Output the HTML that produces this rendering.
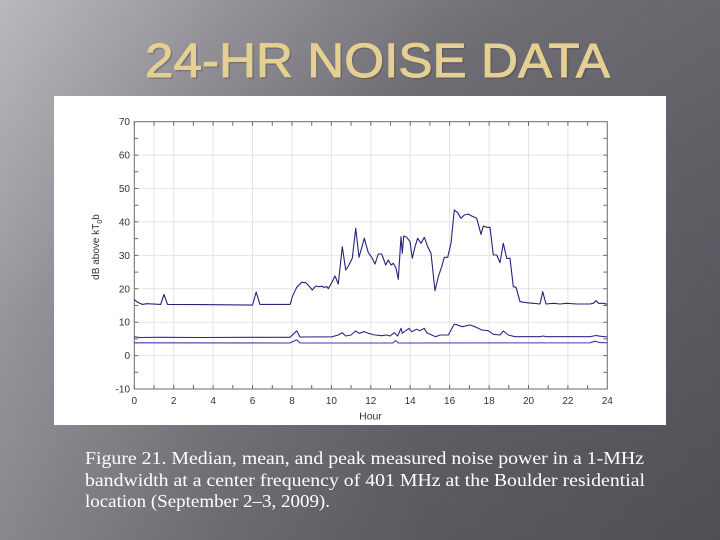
<!DOCTYPE html>
<html><head><meta charset="utf-8"><style>
html,body{margin:0;padding:0;}
body{width:720px;height:540px;overflow:hidden;position:relative;
background:linear-gradient(to right,#9c9aa0 0%,#7c7a81 30%,#66646b 60%,#5c5a61 100%);}
#bg2{position:absolute;left:0;top:0;width:720px;height:540px;
background:linear-gradient(to bottom,rgba(255,255,255,0.08) 0%,rgba(0,0,0,0) 45%,rgba(0,0,0,0.12) 100%);}
#bg3{position:absolute;left:0;top:0;width:720px;height:540px;
background:linear-gradient(150deg,rgba(255,255,255,0.24) 0%,rgba(255,255,255,0.10) 18%,rgba(255,255,255,0) 34%);}
svg{position:absolute;left:0;top:0;}
</style></head><body>
<div id="bg2"></div><div id="bg3"></div>
<svg width="720" height="540" viewBox="0 0 720 540" xmlns="http://www.w3.org/2000/svg">
<text x="145" y="77" font-family="Liberation Sans, sans-serif" font-size="48" fill="#3a383c" opacity="0.3" stroke="#3a383c" stroke-width="0.8" textLength="465" lengthAdjust="spacingAndGlyphs" transform="translate(1.5,1.5)">24-HR NOISE DATA</text>
<text x="145" y="77" font-family="Liberation Sans, sans-serif" font-size="48" fill="#e5d093" stroke="#e5d093" stroke-width="0.9" textLength="465" lengthAdjust="spacingAndGlyphs">24-HR NOISE DATA</text>

<rect x="54" y="96" width="612" height="329" fill="#ffffff"/>

<g stroke="#e4e4e4" stroke-width="1" fill="none">
<line x1="154.0" y1="122" x2="154.0" y2="389"/>
<line x1="173.7" y1="122" x2="173.7" y2="389"/>
<line x1="213.1" y1="122" x2="213.1" y2="389"/>
<line x1="252.5" y1="122" x2="252.5" y2="389"/>
<line x1="292.0" y1="122" x2="292.0" y2="389"/>
<line x1="331.4" y1="122" x2="331.4" y2="389"/>
<line x1="370.8" y1="122" x2="370.8" y2="389"/>
<line x1="410.2" y1="122" x2="410.2" y2="389"/>
<line x1="449.6" y1="122" x2="449.6" y2="389"/>
<line x1="489.1" y1="122" x2="489.1" y2="389"/>
<line x1="528.5" y1="122" x2="528.5" y2="389"/>
<line x1="567.9" y1="122" x2="567.9" y2="389"/>
<line x1="134.3" y1="155.1" x2="607.3" y2="155.1"/>
<line x1="134.3" y1="188.5" x2="607.3" y2="188.5"/>
<line x1="134.3" y1="221.9" x2="607.3" y2="221.9"/>
<line x1="134.3" y1="255.4" x2="607.3" y2="255.4"/>
<line x1="134.3" y1="288.8" x2="607.3" y2="288.8"/>
<line x1="134.3" y1="322.2" x2="607.3" y2="322.2"/>
<line x1="134.3" y1="355.6" x2="607.3" y2="355.6"/>
</g>

<rect x="134.3" y="121.7" width="473" height="267.3" fill="none" stroke="#6a6a6a" stroke-width="1"/>
<g stroke="#6a6a6a" stroke-width="1">
<path d="M134.3 389v-4M154.0 389v-4M173.7 389v-4M193.4 389v-4M213.1 389v-4M232.8 389v-4M252.5 389v-4M272.3 389v-4M292.0 389v-4M311.7 389v-4M331.4 389v-4M351.1 389v-4M370.8 389v-4M390.5 389v-4M410.2 389v-4M429.9 389v-4M449.6 389v-4M469.4 389v-4M489.1 389v-4M508.8 389v-4M528.5 389v-4M548.2 389v-4M567.9 389v-4M587.6 389v-4"/>
<path d="M134.3 121.7v4M154.0 121.7v4M173.7 121.7v4M193.4 121.7v4M213.1 121.7v4M232.8 121.7v4M252.5 121.7v4M272.3 121.7v4M292.0 121.7v4M311.7 121.7v4M331.4 121.7v4M351.1 121.7v4M370.8 121.7v4M390.5 121.7v4M410.2 121.7v4M429.9 121.7v4M449.6 121.7v4M469.4 121.7v4M489.1 121.7v4M508.8 121.7v4M528.5 121.7v4M548.2 121.7v4M567.9 121.7v4M587.6 121.7v4"/>
<path d="M134.3 138.4h4M134.3 155.1h4M134.3 171.8h4M134.3 188.5h4M134.3 205.2h4M134.3 221.9h4M134.3 238.6h4M134.3 255.4h4M134.3 272.1h4M134.3 288.8h4M134.3 305.5h4M134.3 322.2h4M134.3 338.9h4M134.3 355.6h4M134.3 372.3h4"/>
<path d="M607.3 138.4h-4M607.3 155.1h-4M607.3 171.8h-4M607.3 188.5h-4M607.3 205.2h-4M607.3 221.9h-4M607.3 238.6h-4M607.3 255.4h-4M607.3 272.1h-4M607.3 288.8h-4M607.3 305.5h-4M607.3 322.2h-4M607.3 338.9h-4M607.3 355.6h-4M607.3 372.3h-4"/>
</g>

<g font-family="Liberation Sans, sans-serif" font-size="10" fill="#333" text-anchor="end">
<text x="130" y="125.2">70</text>
<text x="130" y="158.6">60</text>
<text x="130" y="192.0">50</text>
<text x="130" y="225.4">40</text>
<text x="130" y="258.9">30</text>
<text x="130" y="292.3">20</text>
<text x="130" y="325.7">10</text>
<text x="130" y="359.1">0</text>
<text x="130" y="392.5">-10</text>
</g>
<g font-family="Liberation Sans, sans-serif" font-size="10" fill="#333" text-anchor="middle">
<text x="134.3" y="404">0</text>
<text x="173.7" y="404">2</text>
<text x="213.1" y="404">4</text>
<text x="252.5" y="404">6</text>
<text x="292.0" y="404">8</text>
<text x="331.4" y="404">10</text>
<text x="370.8" y="404">12</text>
<text x="410.2" y="404">14</text>
<text x="449.6" y="404">16</text>
<text x="489.1" y="404">18</text>
<text x="528.5" y="404">20</text>
<text x="567.9" y="404">22</text>
<text x="607.3" y="404">24</text>
<text x="370.5" y="419.5" font-size="10.5">Hour</text>
</g>
<text transform="translate(99,247) rotate(-90)" font-family="Liberation Sans, sans-serif" font-size="10" fill="#333" text-anchor="middle">dB above kT<tspan font-size="7" dy="3">0</tspan><tspan dy="-3">b</tspan></text>

<g fill="none" stroke-width="1.1" stroke-linejoin="round">
<polyline stroke="#24247a" points="134.1,299.6 137.7,302.3 142.3,304.4 146.9,303.7 160.7,304.4 163.9,294.4 167.6,304.4 200,304.6 252.5,305.1 256.2,292.0 259.9,304.4 290.2,304.4 292.3,296.7 296.7,287.3 301.7,282.3 305.7,282.7 309,286 312.3,290 315.7,286 318.3,286.7 321.7,286.3 324.3,287.3 327,286.7 328.3,288.7 331,284 335,276 338.3,284 342.3,246.7 345.7,270 349,265 352.3,258.3 355.7,228.3 359,257.3 364.3,238.3 368.3,252.7 371.7,257.3 375,264 378.3,254 381.7,254 385.7,265 388.3,260 391,265 393.3,263.3 396,268.3 398.3,279.3 401,236.7 402.3,253.3 403.7,236 406.7,237.3 410,241.7 412.3,258.3 415,246.7 417.7,238.3 421,243.3 424.3,237.3 427.7,246.7 431,253.3 435,290.7 438.3,276.7 441.7,266.7 444.3,257.3 447.7,257.3 451,243.3 454.3,210 457.7,212.7 461,218.3 464.3,215 468.3,214 471.7,216 476.7,218.3 481,234.3 483.3,226 486.7,227.3 490,227.3 493.3,255 496.7,255 500,262.7 503.3,243.3 506.7,258.3 510,258.3 513.3,286.7 516,287.3 520,301.7 526.7,302.7 533.3,303.3 540,304 542.7,291.7 546,304 553.3,303.3 560,304 566.7,303.3 576.7,304 590,304 593.3,303.3 596,300.7 598.7,303.3 603.3,303.3 607.3,304.3"/>
<polyline stroke="#2a2a85" points="134.1,336.8 140,337.5 160,337.3 200,337.5 250,337.3 290,337.3 296.7,330.8 300,337 331.7,336.8 338.3,335 342.3,332.7 345.7,336 351,335 355.7,331 359,333.3 364.3,331.7 368.3,333.3 375,335 381.7,335.7 386.7,335 390,336 394.3,332.7 397.7,336 401,328.3 402.3,333.3 405.7,330.7 409,328.3 411.7,331.7 416.7,329.3 420,330.7 424.3,328.3 426.7,332.7 431.7,335 435.7,336.7 440,335 448.3,335 454.3,324 458.3,325.3 462.3,326.7 470,325 475,326.7 481.7,330 488.3,330.7 493.3,334.3 500,335 503.3,331 508.3,335 515,336.7 540,336.7 543,336 546,336.7 590,336.7 596,335.5 600,336.2 607.3,337"/>
<polyline stroke="#3b3bb0" points="134.1,342.8 290,343 296.7,339.8 300,343 393,343 395.5,340.5 398.3,343 590,342.8 595,341.2 600,342.6 607.3,342.8"/>
</g>

<g font-family="Liberation Serif, serif" font-size="17.5" fill="#ffffff">
<text x="85" y="464" textLength="559" lengthAdjust="spacingAndGlyphs">Figure 21. Median, mean, and peak measured noise power in a 1-MHz</text>
<text x="85" y="486" textLength="560" lengthAdjust="spacingAndGlyphs">bandwidth at a center frequency of 401 MHz at the Boulder residential</text>
<text x="85" y="507" textLength="245" lengthAdjust="spacingAndGlyphs">location (September 2–3, 2009).</text>
</g>
</svg>
</body></html>
